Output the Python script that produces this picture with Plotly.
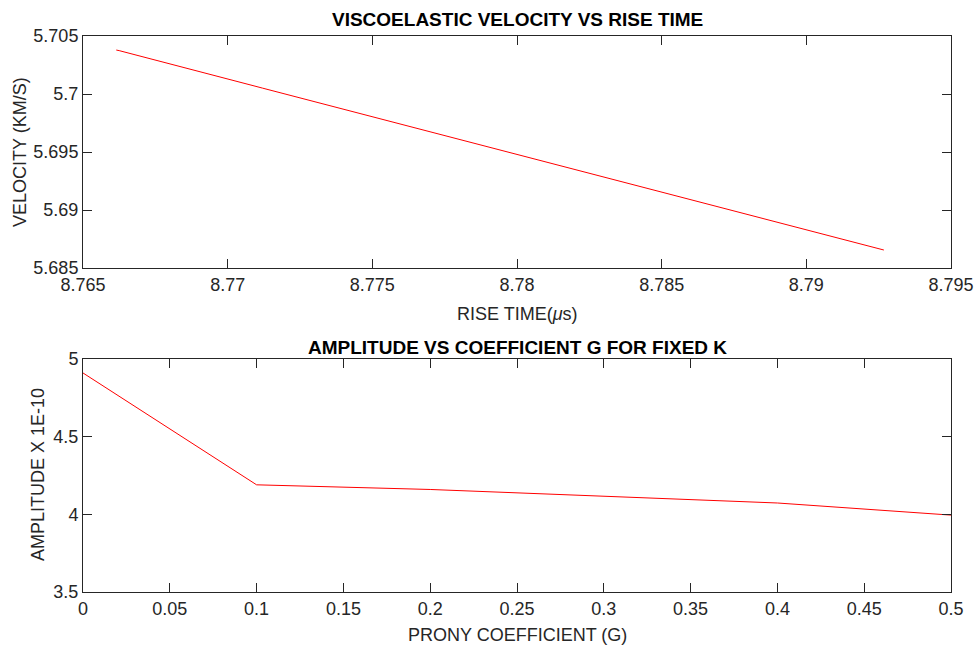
import plotly.graph_objects as go

# Top panel: viscoelastic velocity vs rise time
rise_time_us = [8.76615, 8.76625, 8.7712, 8.7765, 8.7818, 8.7872, 8.79268]
velocity_kms = [5.70379, 5.70374, 5.70051, 5.69707, 5.69362, 5.69012, 5.68655]

# Bottom panel: amplitude vs prony coefficient G
prony_g = [0.0, 0.1, 0.2, 0.3, 0.4, 0.5]
amplitude_e10 = [4.91, 4.19, 4.16, 4.118, 4.073, 3.995]

top_xticks = [8.765, 8.77, 8.775, 8.78, 8.785, 8.79, 8.795]
top_yticks = [5.685, 5.69, 5.695, 5.7, 5.705]
bot_xticks = [0, 0.05, 0.1, 0.15, 0.2, 0.25, 0.3, 0.35, 0.4, 0.45, 0.5]
bot_yticks = [3.5, 4, 4.5, 5]

W, H = 976, 650
FONT = "Liberation Sans, Arial, Helvetica, sans-serif"
GRAY = "#262626"

def px(x):
    return x / W

def py(y):
    return 1 - y / H

fig = go.Figure()
fig.add_trace(go.Scatter(x=rise_time_us, y=velocity_kms, mode="lines",
                         line=dict(color="#ff0000", width=1), xaxis="x", yaxis="y", showlegend=False))
fig.add_trace(go.Scatter(x=prony_g, y=amplitude_e10, mode="lines",
                         line=dict(color="#ff0000", width=1), xaxis="x2", yaxis="y2", showlegend=False))

xd = [px(83), px(951)]
top_d = [py(268), py(36)]
bot_d = [py(592), py(359)]

def ax(**kw):
    base = dict(showline=True, linecolor=GRAY, linewidth=1, mirror="ticks", ticks="inside",
                ticklen=9, tickcolor=GRAY, tickwidth=1, showgrid=False, zeroline=False,
                automargin=False,
                tickfont=dict(family=FONT, size=18, color=GRAY))
    base.update(kw)
    return base

def fmt(vals):
    return ["%g" % v for v in vals]

fig.update_layout(
    template="none",
    width=W, height=H, margin=dict(l=0, r=0, t=0, b=0, pad=0),
    paper_bgcolor="white", plot_bgcolor="white",
    xaxis=ax(domain=xd, anchor="y", range=[8.765, 8.795], tickvals=top_xticks, ticktext=fmt(top_xticks)),
    yaxis=ax(domain=top_d, anchor="x", range=[5.685, 5.705], tickvals=top_yticks, ticktext=fmt(top_yticks)),
    xaxis2=ax(domain=xd, anchor="y2", range=[0, 0.5], tickvals=bot_xticks, ticktext=fmt(bot_xticks)),
    yaxis2=ax(domain=bot_d, anchor="x2", range=[3.5, 5], tickvals=bot_yticks, ticktext=fmt(bot_yticks)),
)

ann = [
    dict(text="<b>VISCOELASTIC VELOCITY VS RISE TIME</b>", x=517, y=19, size=19, color="black", angle=0),
    dict(text="<b>AMPLITUDE VS COEFFICIENT G FOR FIXED K</b>", x=517, y=347, size=19, color="black", angle=0),
    dict(text="RISE TIME(<i>μ</i>s)", x=517, y=314, size=18, color=GRAY, angle=0),
    dict(text="PRONY COEFFICIENT (G)", x=517, y=635, size=18, color=GRAY, angle=0),
    dict(text="VELOCITY (KM/S)", x=20, y=152, size=18, color=GRAY, angle=-90),
    dict(text="AMPLITUDE X 1E-10", x=38, y=475, size=18, color=GRAY, angle=-90),
]
for a in ann:
    fig.add_annotation(text=a["text"], x=px(a["x"]), y=py(a["y"]), xref="paper", yref="paper",
                       showarrow=False, textangle=a["angle"], xanchor="center", yanchor="middle",
                       font=dict(family=FONT, size=a["size"], color=a["color"]))

fig.write_html("out.html",
               config={"displayModeBar": False},
               post_script="document.body.style.margin='0';document.body.style.overflow='hidden';")
